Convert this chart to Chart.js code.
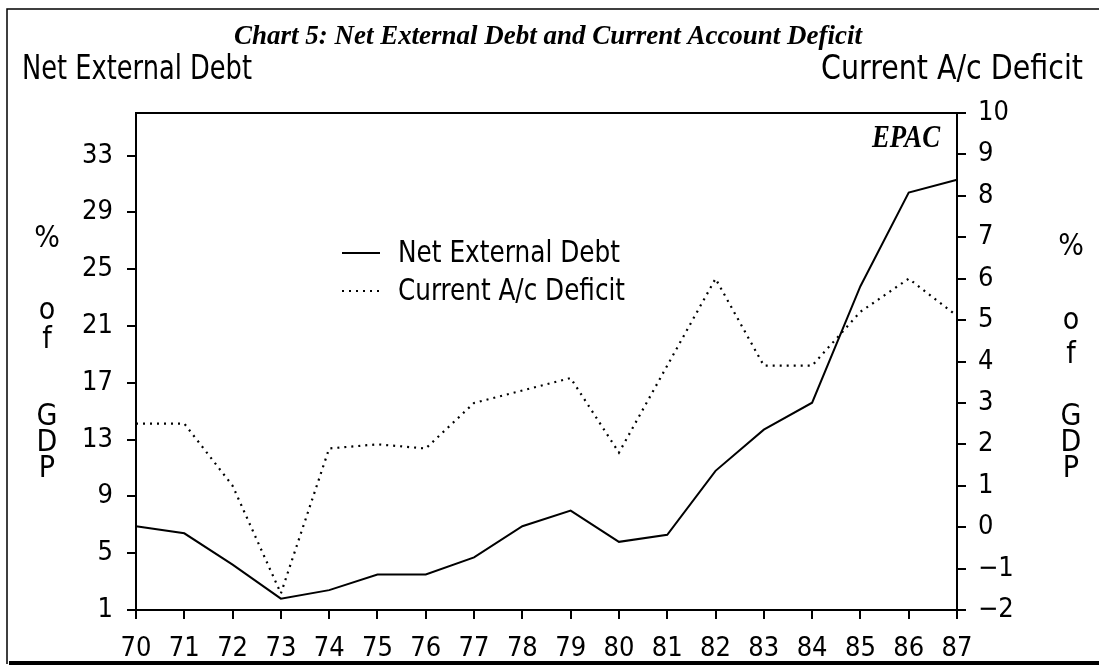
<!DOCTYPE html>
<html>
<head>
<meta charset="utf-8">
<script src="https://cdn.jsdelivr.net/npm/chart.js@4.4.1/dist/chart.umd.min.js"></script>
<style>
  html, body { margin: 0; padding: 0; background: #fff; }
  #wrap { width: 1099px; height: 669px; position: relative; }
</style>
</head>
<body>
<div id="wrap"><canvas id="c" width="1099" height="669"></canvas></div>
<script>
// ---- data ----
const years = ['70','71','72','73','74','75','76','77','78','79','80','81','82','83','84','85','86','87'];
const netExternalDebt = [6.9, 6.4, 4.2, 1.8, 2.4, 3.5, 3.5, 4.7, 6.9, 8.0, 5.8, 6.3, 10.8, 13.7, 15.6, 23.8, 30.4, 31.3];
const currentAcDeficit = [2.5, 2.5, 1.0, -1.6, 1.9, 2.0, 1.9, 3.0, 3.3, 3.6, 1.8, 3.9, 6.0, 3.9, 3.9, 5.2, 6.0, 5.1];
const leftTicks = [1, 5, 9, 13, 17, 21, 25, 29, 33];
const rightTicks = [-2, -1, 0, 1, 2, 3, 4, 5, 6, 7, 8, 9, 10];
const titleText = 'Chart 5: Net External Debt and Current Account Deficit';
const leftHeader = 'Net External Debt';
const rightHeader = 'Current A/c Deficit';
const sideLetters = ['%', 'o', 'f', 'G', 'D', 'P'];
const sourceTag = 'EPAC';

const SANS = '"Liberation Sans Narrow", "DejaVu Sans Condensed", "DejaVu Sans", sans-serif';
const SERIF = '"Liberation Serif", "DejaVu Serif", serif';

function fitText(ctx, text, x, y, font, align, width) {
  ctx.save();
  ctx.font = font;
  ctx.textBaseline = 'middle';
  ctx.textAlign = 'left';
  const w = ctx.measureText(text).width;
  const s = width ? width / w : 1;
  let x0 = x;
  const ww = w * s;
  if (align === 'center') x0 = x - ww / 2;
  else if (align === 'right') x0 = x - ww;
  ctx.translate(x0, y);
  ctx.scale(s, 1);
  ctx.fillStyle = '#000';
  ctx.fillText(text, 0, 0);
  ctx.restore();
}

const decor = {
  id: 'decor',
  afterDraw(chart) {
    const ctx = chart.ctx;
    const a = chart.chartArea;
    ctx.save();
    ctx.strokeStyle = '#000';
    // outer frame
    ctx.lineWidth = 1.5;
    ctx.beginPath();
    ctx.moveTo(7, 664); ctx.lineTo(7, 9); ctx.lineTo(1099, 9);
    ctx.stroke();
    ctx.lineWidth = 4;
    ctx.beginPath();
    ctx.moveTo(9, 663); ctx.lineTo(1099, 663);
    ctx.stroke();
    // plot top border
    ctx.lineWidth = 2;
    ctx.beginPath();
    ctx.moveTo(a.left, a.top); ctx.lineTo(a.right, a.top);
    ctx.stroke();
    ctx.restore();

    // title and headers
    fitText(ctx, titleText, 548, 37, 'bold italic 28px ' + SERIF, 'center', 628);
    fitText(ctx, leftHeader, 22, 70, '33px ' + SANS, 'left', 230);
    fitText(ctx, rightHeader, 1083, 70, '33px ' + SANS, 'right', 262);
    fitText(ctx, sourceTag, 940, 139, 'bold italic 32px ' + SERIF, 'right', 68);

    // side letters
    const ly = [239, 311, 340, 417, 443, 469];
    const ry = [247, 321, 355, 417, 443, 469];
    sideLetters.forEach((t, i) => {
      fitText(ctx, t, 47, ly[i], '30px ' + SANS, 'center');
      fitText(ctx, t, 1071, ry[i], '30px ' + SANS, 'center');
    });

    // legend
    const ds = chart.data.datasets;
    const rows = [253, 291];
    ds.forEach((d, i) => {
      ctx.save();
      ctx.strokeStyle = d.borderColor;
      ctx.lineWidth = d.borderWidth;
      ctx.setLineDash(d.borderDash || []);
      ctx.beginPath();
      ctx.moveTo(342, rows[i]); ctx.lineTo(380, rows[i]);
      ctx.stroke();
      ctx.restore();
      fitText(ctx, d.label, 398, rows[i] + 1, '31px ' + SANS, 'left', i === 0 ? 222 : 227);
    });
  }
};

const tickFont = { family: SANS, size: 27 };
const minus = v => String(v).replace('-', '\u2212');

new Chart(document.getElementById('c'), {
  type: 'line',
  data: {
    labels: years,
    datasets: [
      {
        label: 'Net External Debt',
        data: netExternalDebt,
        yAxisID: 'yL',
        borderColor: '#000',
        borderWidth: 2,
        pointRadius: 0,
        tension: 0,
        fill: false
      },
      {
        label: 'Current A/c Deficit',
        data: currentAcDeficit,
        yAxisID: 'yR',
        borderColor: '#000',
        borderWidth: 2.2,
        borderDash: [2, 5],
        pointRadius: 0,
        tension: 0,
        fill: false
      }
    ]
  },
  options: {
    responsive: false,
    animation: false,
    layout: { padding: { top: 113, left: 0, right: 0, bottom: 0 } },
    plugins: { legend: { display: false }, tooltip: { enabled: false }, title: { display: false } },
    scales: {
      x: {
        type: 'category',
        offset: false,
        grid: { drawOnChartArea: false, drawTicks: true, tickLength: 9, color: '#000', lineWidth: 2 },
        border: { display: true, color: '#000', width: 2 },
        ticks: { color: '#000', font: tickFont, autoSkip: false, maxRotation: 0, padding: 14 },
        afterFit(s) { s.height = 59; }
      },
      yL: {
        position: 'left',
        min: 1, max: 36,
        afterBuildTicks(s) { s.ticks = leftTicks.map(v => ({ value: v })); },
        grid: { drawOnChartArea: false, drawTicks: true, tickLength: 9, color: '#000', lineWidth: 2 },
        border: { display: true, color: '#000', width: 2 },
        ticks: { color: '#000', font: tickFont, padding: 14 },
        afterFit(s) { s.width = 136; }
      },
      yR: {
        position: 'right',
        min: -2, max: 10,
        afterBuildTicks(s) { s.ticks = rightTicks.map(v => ({ value: v })); },
        grid: { drawOnChartArea: false, drawTicks: true, tickLength: 9, color: '#000', lineWidth: 2 },
        border: { display: true, color: '#000', width: 2 },
        ticks: { color: '#000', font: tickFont, padding: 12, callback: v => minus(v) },
        afterFit(s) { s.width = 142; }
      }
    }
  },
  plugins: [decor]
});
</script>
</body>
</html>
